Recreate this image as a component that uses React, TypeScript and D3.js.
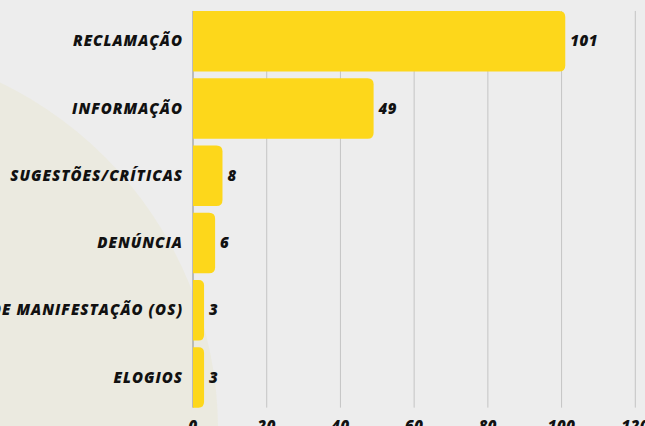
import React from "react";
import * as d3 from "d3";

const categories = [
  "RECLAMAÇÃO",
  "INFORMAÇÃO",
  "SUGESTÕES/CRÍTICAS",
  "DENÚNCIA",
  "SOLICITAÇÃO DE MANIFESTAÇÃO (OS)",
  "ELOGIOS",
];
const values = [101, 49, 8, 6, 3, 3];
const ticks = [0, 20, 40, 60, 80, 100, 120];

const W = 645;
const H = 426;
const FONT = "'Open Sans', sans-serif";

function barPath(x0: number, x1: number, y: number, h: number, r: number) {
  const rr = Math.min(r, (x1 - x0) / 2, h / 2);
  return `M${x0},${y}H${x1 - rr}Q${x1},${y} ${x1},${y + rr}V${y + h - rr}Q${x1},${y + h} ${x1 - rr},${y + h}H${x0}Z`;
}

export default function App() {
  const x = d3.scaleLinear().domain([0, 120]).range([193, 635.3]);
  const y = d3
    .scaleBand<string>()
    .domain(categories)
    .range([7.6, 411])
    .paddingInner(0.1)
    .paddingOuter(0.05);
  const gridTop = y(categories[0])!;
  const gridBottom = y(categories[categories.length - 1])! + y.bandwidth();

  const textStyle = {
    fontFamily: FONT,
    fontWeight: 800,
    fontStyle: "italic",
    fontSize: 15,
    fill: "#111",
  } as const;

  return (
    <svg
      width={W}
      height={H}
      style={{ position: "fixed", left: 0, top: 0, display: "block" }}
    >
      <rect x={0} y={0} width={W} height={H} fill="#ededed" />
      <circle cx={-168} cy={430} r={386} fill="#ebeae0" />
      {ticks.map((t) => (
        <line
          key={t}
          x1={x(t)}
          x2={x(t)}
          y1={gridTop}
          y2={gridBottom}
          stroke={t === 0 ? "#8a8a8a" : "#c4c4c4"}
          strokeWidth={1}
        />
      ))}
      {categories.map((c, i) => {
        const yy = y(c)!;
        const h = y.bandwidth();
        return (
          <g key={c}>
            <path d={barPath(x(0), x(values[i]), yy, h, 6)} fill="#fdd71b" />
            <text
              x={x(values[i]) + 5}
              y={yy + h / 2}
              dy="0.35em"
              letterSpacing={0.5}
              {...textStyle}
            >
              {values[i]}
            </text>
            <text
              x={183}
              y={yy + h / 2}
              dy="0.35em"
              textAnchor="end"
              letterSpacing={1}
              {...textStyle}
            >
              {c}
            </text>
          </g>
        );
      })}
      {ticks.map((t) => (
        <text
          key={"t" + t}
          x={x(t)}
          y={431}
          textAnchor="middle"
          letterSpacing={0.5}
          {...textStyle}
        >
          {t}
        </text>
      ))}
    </svg>
  );
}
